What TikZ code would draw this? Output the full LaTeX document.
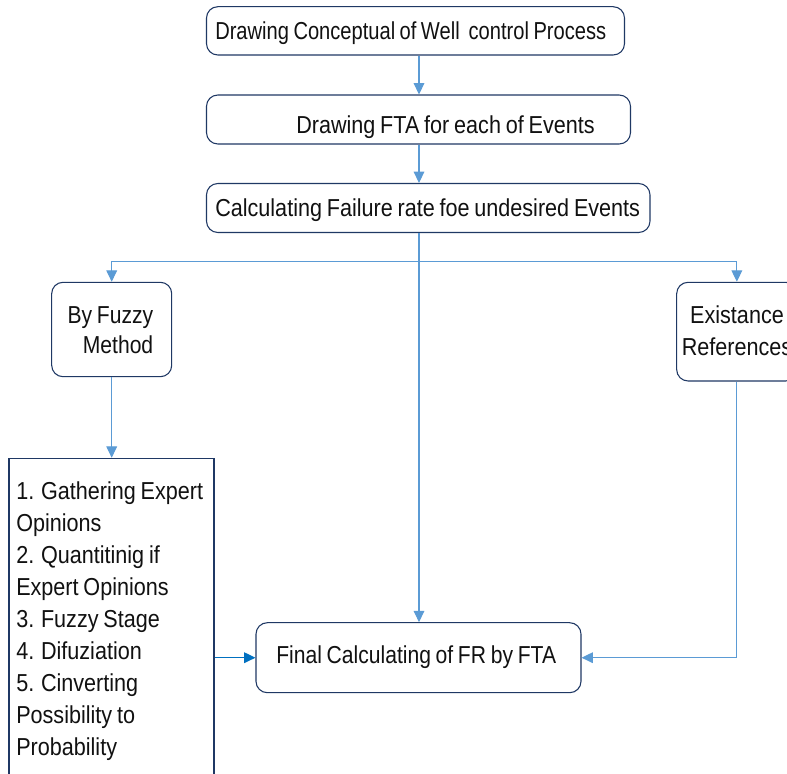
\documentclass[tikz,border=0pt]{standalone}
\usepackage{fontspec}
\setmainfont[FakeStretch=0.88,WordSpace=0.8]{Liberation Sans}
\newfontfamily\narrowfont[FakeStretch=0.82,WordSpace=0.8]{Liberation Sans}
\newfontfamily\finfont[FakeStretch=0.86,WordSpace=0.8]{Liberation Sans}
\usetikzlibrary{arrows.meta,fit}
\definecolor{navy}{HTML}{1F3864}
\definecolor{conn}{HTML}{5B9BD5}
\definecolor{darkconn}{HTML}{0070C0}
\definecolor{ink}{HTML}{111111}
\begin{document}
\begin{tikzpicture}[x=0.75pt,y=-0.75pt,
  rbox/.style={draw=navy, line width=0.8pt, rounded corners=8.5pt, inner sep=0pt, fit={#1}},
  sbox/.style={draw=navy, line width=0.8pt, inner sep=0pt, fit={#1}},
  txt/.style={inner sep=0pt, text=ink, font=\fontsize{18.4}{24}\selectfont},
  arr/.style={draw=conn, line width=0.8pt, -{Triangle[length=8.5pt,width=8pt]}},
  darkarr/.style={draw=darkconn, line width=0.8pt, -{Triangle[length=8.5pt,width=8pt]}}]
\clip (0,0) rectangle (787,773);
\fill[white] (0,0) rectangle (787,773);

% boxes
\node[rbox={(206.5,6.7)(624.5,55)}] (b1) {};
\node[rbox={(206.5,95)(630.5,144)}] (b2) {};
\node[rbox={(206.5,183.5)(650,232.5)}] (b3) {};
\node[rbox={(51.7,282.3)(171.7,376.7)}] (fz) {};
\node[rbox={(676.7,282.3)(797,381)}] (ex) {};
\node[sbox={(9,458.3)(214,800)}] (lst) {};
\node[rbox={(256,622.7)(581,692.7)}] (fin) {};

% texts
\node[txt, anchor=base west, font=\narrowfont\fontsize{18.4}{24}\selectfont] (t1) at (215,39.3) {Drawing Conceptual of Well\ \ control Process};
\node[txt, anchor=base west] (t2) at (296,133.3) {Drawing FTA for each of Events};
\node[txt, anchor=base west] (t3) at (215,216.7) {Calculating Failure rate foe undesired Events};
\node[txt, anchor=north east, align=right, font=\finfont\fontsize{18.4}{22.5}\selectfont] (tfz) at (153.5,306) {By Fuzzy\\Method};
\node[txt, anchor=north, align=center] (tex) at (737,305) {Existance\\References};
\node[txt, anchor=north west, align=left] (tlst) at (16,481.7) {1. Gathering Expert\\Opinions\\2. Quantitinig if\\Expert Opinions\\3. Fuzzy Stage\\4. Difuziation\\5. Cinverting\\Possibility to\\Probability};
\node[txt, anchor=base west, font=\finfont\fontsize{18.4}{24}\selectfont] (tfin) at (276,663.3) {Final Calculating of FR by FTA};

% connectors
\coordinate (j) at (419,261.5);
\draw[arr] (b1.south -| j) -- (b2.north -| j);
\draw[arr] (b2.south -| j) -- (b3.north -| j);
\draw[arr] (b3.south -| j) -- (fin.north -| j);
\draw[arr] (j) -| (fz.north);
\draw[arr] (j) -| (ex.north);
\draw[arr] (fz.south) -- (lst.north -| fz.south);
\draw[darkarr] (lst.east |- fin.west) -- (fin.west);
\draw[arr] (ex.south) |- (fin.east);
\end{tikzpicture}
\end{document}
